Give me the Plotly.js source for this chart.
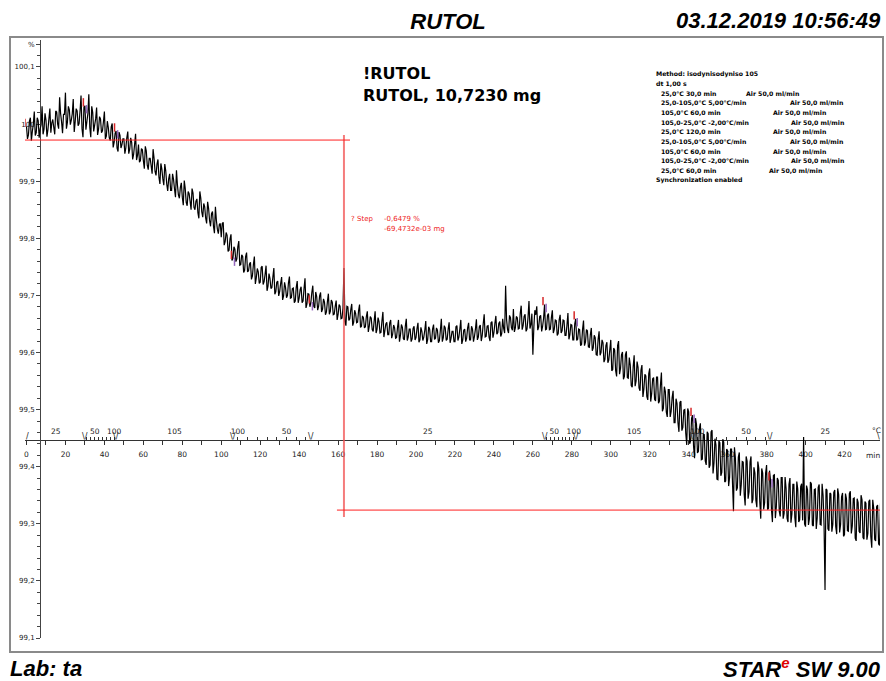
<!DOCTYPE html>
<html><head><meta charset="utf-8">
<script src="https://cdn.plot.ly/plotly-3.0.1.min.js"></script>
<style>html,body{margin:0;padding:0;background:#fff}#chart{width:886px;height:681px}</style>
</head><body><div id="chart"></div>
<script>
// ---- data: sample mass in %, readings on each full minute and each half minute ----
const sampleStepMin = 0.5;
const massMin000 = [99.996,99.981,100.011,99.987,100.022,99.985,100.006,99.991,100.031,99.991,
100.007,99.990,100.027,100.002,99.994,100.023,100.000,100.047,100.004,100.017,
100.055,100.003,100.025,100.007,100.044,100.004,100.023,100.001,100.050,99.977,
100.032,100.004,100.052,99.977,100.020,99.998,100.029,99.991,100.009,99.988,
100.022,99.979,99.994,99.971,100.001,99.968,99.988,99.952,99.980,99.964];
const massMin050 = [99.974,99.958,99.987,99.956,99.968,99.947,99.983,99.945,99.933,99.957,
99.936,99.961,99.928,99.940,99.927,99.956,99.917,99.930,99.907,99.931,
99.904,99.930,99.895,99.904,99.884,99.913,99.886,99.919,99.876,99.889,
99.872,99.901,99.863,99.882,99.865,99.887,99.854,99.865,99.845,99.882,
99.846,99.861,99.835,99.864,99.831,99.843,99.821,99.855,99.816,99.824];
const massMin100 = [99.802,99.828,99.794,99.805,99.779,99.807,99.765,99.781,99.764,99.795,
99.754,99.768,99.744,99.775,99.743,99.758,99.734,99.768,99.731,99.741,
99.723,99.751,99.724,99.752,99.716,99.730,99.714,99.748,99.706,99.725,
99.707,99.732,99.699,99.714,99.700,99.733,99.696,99.713,99.690,99.725,
99.695,99.715,99.690,99.730,99.685,99.702,99.687,99.717,99.678,99.698];
const massMin150 = [99.681,99.705,99.676,99.688,99.671,99.703,99.672,99.688,99.667,99.691,
99.667,99.681,99.660,99.748,99.647,99.680,99.659,99.685,99.653,99.668,
99.653,99.684,99.646,99.661,99.645,99.672,99.646,99.660,99.637,99.672,
99.641,99.654,99.635,99.671,99.638,99.653,99.631,99.657,99.632,99.643,
99.626,99.657,99.630,99.644,99.622,99.659,99.627,99.641,99.624,99.646];
const massMin200 = [99.626,99.652,99.622,99.637,99.627,99.655,99.623,99.641,99.619,99.649,
99.625,99.639,99.621,99.659,99.626,99.643,99.623,99.653,99.625,99.637,
99.619,99.647,99.627,99.657,99.622,99.641,99.625,99.652,99.622,99.641,
99.628,99.658,99.627,99.648,99.630,99.667,99.628,99.647,99.620,99.654,
99.635,99.664,99.635,99.654,99.633,99.642,99.717,99.640,99.665,99.643];
const massMin250 = [99.676,99.643,99.661,99.642,99.682,99.647,99.667,99.641,99.690,99.649,
99.596,99.674,99.681,99.645,99.665,99.646,99.684,99.641,99.668,99.641,
99.674,99.641,99.656,99.633,99.666,99.638,99.656,99.630,99.669,99.631,
99.648,99.622,99.659,99.623,99.640,99.614,99.656,99.618,99.638,99.609,
99.643,99.608,99.626,99.595,99.637,99.600,99.617,99.588,99.618,99.587];
const massMin300 = [99.622,99.570,99.604,99.558,99.620,99.572,99.601,99.558,99.602,99.555,
99.578,99.539,99.595,99.550,99.574,99.533,99.578,99.536,99.559,99.517,
99.572,99.528,99.556,99.515,99.557,99.515,99.565,99.502,99.532,99.487,
99.535,99.497,99.533,99.477,99.511,99.461,99.515,99.469,99.500,99.438,
99.496,99.445,99.490,99.415,99.474,99.427,99.476,99.413,99.456,99.403];
const massMin350 = [99.458,99.403,99.464,99.407,99.438,99.377,99.442,99.390,99.443,99.375,
99.428,99.381,99.431,99.322,99.414,99.363,99.425,99.369,99.408,99.332,
99.410,99.356,99.418,99.343,99.389,99.329,99.397,99.309,99.389,99.337,
99.403,99.327,99.377,99.303,99.386,99.330,99.376,99.313,99.381,99.318,
99.362,99.303,99.380,99.317,99.369,99.294,99.361,99.307,99.370,99.452];
const massMin400 = [99.295,99.360,99.309,99.370,99.296,99.361,99.310,99.369,99.298,99.350,
99.184,99.359,99.288,99.352,99.299,99.359,99.282,99.351,99.299,99.354,
99.281,99.344,99.287,99.357,99.296,99.345,99.270,99.337,99.284,99.342,
99.273,99.336,99.283,99.342,99.258,99.327,99.270,99.333,99.262,99.317];

const massHalf000 = [99.974,100.005,99.971,100.000,99.980,100.011,99.976,99.999,99.982,100.019,
99.978,100.009,99.985,100.008,99.982,100.021,99.992,100.019,99.984,100.017,
99.992,100.031,99.999,100.018,99.986,100.027,99.997,100.023,99.992,100.030,
99.990,100.018,99.994,100.031,99.987,100.009,99.981,100.013,99.985,100.004,
99.974,100.005,99.976,99.995,99.959,99.984,99.958,99.986,99.958,99.974];
const massHalf050 = [99.948,99.976,99.948,99.976,99.938,99.964,99.937,99.964,99.936,99.955,
99.922,99.953,99.920,99.940,99.913,99.940,99.910,99.938,99.895,99.921,
99.893,99.918,99.883,99.913,99.884,99.903,99.872,99.893,99.870,99.897,
99.858,99.887,99.857,99.878,99.850,99.879,99.850,99.869,99.835,99.870,
99.837,99.855,99.826,99.852,99.821,99.847,99.809,99.831,99.808,99.826];
const massHalf100 = [99.826,99.788,99.810,99.777,99.799,99.761,99.785,99.759,99.785,99.753,
99.771,99.740,99.768,99.741,99.755,99.728,99.754,99.720,99.747,99.721,
99.749,99.719,99.737,99.708,99.738,99.712,99.732,99.702,99.723,99.699,
99.721,99.692,99.723,99.696,99.722,99.695,99.712,99.687,99.714,99.687,
99.710,99.687,99.712,99.678,99.703,99.680,99.705,99.681,99.706,99.674];
const massHalf150 = [99.699,99.671,99.694,99.666,99.689,99.667,99.692,99.666,99.681,99.657,
99.684,99.659,99.678,99.655,99.681,99.656,99.675,99.647,99.674,99.652,
99.673,99.644,99.664,99.643,99.663,99.636,99.663,99.640,99.655,99.634,
99.661,99.634,99.655,99.627,99.650,99.631,99.652,99.625,99.648,99.625,
99.644,99.619,99.649,99.624,99.646,99.621,99.641,99.619,99.642,99.622];
const massHalf200 = [99.642,99.618,99.644,99.621,99.639,99.615,99.645,99.619,99.641,99.623,
99.643,99.617,99.639,99.619,99.647,99.621,99.641,99.617,99.637,99.619,
99.645,99.621,99.641,99.615,99.639,99.619,99.643,99.622,99.646,99.619,
99.641,99.622,99.645,99.620,99.650,99.627,99.646,99.627,99.652,99.626,
99.651,99.632,99.651,99.628,99.659,99.634,99.657,99.634,99.661,99.639];
const massHalf250 = [99.636,99.663,99.641,99.668,99.640,99.663,99.637,99.661,99.642,99.668,
99.644,99.666,99.639,99.663,99.637,99.660,99.640,99.665,99.640,99.661,
99.634,99.657,99.630,99.657,99.634,99.657,99.630,99.648,99.623,99.649,
99.622,99.650,99.621,99.641,99.612,99.640,99.612,99.640,99.610,99.631,
99.603,99.630,99.596,99.623,99.595,99.622,99.583,99.612,99.582,99.605];
const massHalf300 = [99.568,99.608,99.568,99.612,99.562,99.596,99.553,99.596,99.556,99.591,
99.542,99.575,99.541,99.584,99.538,99.569,99.522,99.562,99.523,99.563,
99.514,99.554,99.518,99.557,99.511,99.543,99.497,99.540,99.496,99.535,
99.487,99.521,99.477,99.519,99.477,99.513,99.463,99.499,99.458,99.502,
99.440,99.485,99.436,99.485,99.424,99.467,99.412,99.457,99.410,99.461];
const massHalf350 = [99.398,99.461,99.388,99.449,99.378,99.445,99.384,99.448,99.373,99.431,
99.366,99.431,99.371,99.434,99.358,99.417,99.349,99.409,99.352,99.418,
99.344,99.408,99.336,99.399,99.341,99.409,99.339,99.397,99.325,99.389,
99.325,99.393,99.325,99.385,99.310,99.380,99.322,99.381,99.309,99.382,
99.310,99.369,99.302,99.369,99.311,99.374,99.303,99.365,99.306,99.300];
const massHalf400 = [99.367,99.298,99.373,99.298,99.360,99.291,99.364,99.299,99.370,99.298,
99.361,99.291,99.354,99.286,99.355,99.295,99.362,99.285,99.347,99.278,
99.353,99.288,99.353,99.283,99.344,99.275,99.344,99.287,99.350,99.276,
99.339,99.272,99.339,99.278,99.342,99.273,99.330,99.265,99.336,99.273];

// temperature program (min, °C)
const segStartMin = [0, 30, 46, 106, 146, 266, 282, 342, 382];
const segEndMin   = [30, 46, 106, 146, 266, 282, 342, 382, 442];
const segStartC   = [25, 25, 105, 105, 25, 25, 105, 105, 25];
const segEndC     = [25, 105, 105, 25, 25, 105, 105, 25, 25];

// step evaluation
const stepUpperPct = 99.972;
const stepLowerPct = 99.324;
const stepTimeMin = 163.0;

// tick labels
const yTickVals = [99.1,99.2,99.3,99.4,99.5,99.6,99.7,99.8,99.9,100.0,100.1,100.14];
const yTickText = ['99,1','99,2','99,3','99,4','99,5','99,6','99,7','99,8','99,9','100','100,1','%'];
const xTickVals = [0,20,40,60,80,100,120,140,160,180,200,220,240,260,280,300,320,340,360,380,400,420];
const xTickText = ['0','20','40','60','80','100','120','140','160','180','200','220','240','260','280','300','320','340','360','380','400','420'];
const rampTickTemps = [30,40,50,60,70,80,90,100];
const rampLabelTemps = [50,100];

const methodLines = ['25,0°C 30,0 min','25,0-105,0°C 5,00°C/min','105,0°C 60,0 min','105,0-25,0°C -2,00°C/min',
  '25,0°C 120,0 min','25,0-105,0°C 5,00°C/min','105,0°C 60,0 min','105,0-25,0°C -2,00°C/min','25,0°C 60,0 min'];
const methodGas = 'Air 50,0 ml/min';

// ---- build ----
const massMin = [].concat(massMin000,massMin050,massMin100,massMin150,massMin200,massMin250,massMin300,massMin350,massMin400);
const massHalf = [].concat(massHalf000,massHalf050,massHalf100,massHalf150,massHalf200,massHalf250,massHalf300,massHalf350,massHalf400);
const massPct = [];
massMin.forEach((v, i) => { massPct.push(v); massPct.push(massHalf[i]); });
const timeMin = massPct.map((_, i) => i * sampleStepMin);

const W = 886, H = 681, mL = 10, mR = 3, mT = 37, mB = 29;
const pw = W - mL - mR, ph = H - mT - mB;
const px2x = px => (px - mL) / pw;
const py2y = py => (H - mB - py) / ph;

const xRange = [-0.77, 438.23];
const xDomain = [px2x(25), px2x(880)];
const yRange = [99.1, 100.1472];
const yDomain = [py2y(638), py2y(40)];
const axisPos = py2y(440);

const rampVals = [], tLabelVals = [], tLabelText = [];
for (let i = 0; i < segStartMin.length; i++) {
  const a = segStartMin[i], b = segEndMin[i], T0 = segStartC[i], T1 = segEndC[i];
  if (T0 === T1) {
    tLabelVals.push((a + Math.min(b, xRange[1])) / 2);
    tLabelText.push(String(T0));
  } else {
    rampTickTemps.forEach(T => {
      const t = a + (T - T0) / (T1 - T0) * (b - a);
      rampVals.push(t);
      if (rampLabelTemps.includes(T)) { tLabelVals.push(t); tLabelText.push(String(T)); }
    });
  }
}
const boundaries = segStartMin.slice(1);
const massAt = t => massMin[Math.min(massMin.length - 1, Math.round(t))];

const smallFont = {family: 'DejaVu Sans', size: 7.5, color: '#222'};

const traces = [
  {type: 'scatter', mode: 'lines', x: timeMin, y: massPct, xaxis: 'x', yaxis: 'y',
   line: {color: '#000', width: 1.2, simplify: false}, hoverinfo: 'skip'},
  {type: 'scatter', mode: 'lines', xaxis: 'x', yaxis: 'y', hoverinfo: 'skip',
   x: [stepTimeMin, stepTimeMin], y: [99.981, 99.312],
   line: {color: 'rgba(240,80,80,0.75)', width: 2}},
  {type: 'scatter', mode: 'lines', xaxis: 'x', yaxis: 'y', hoverinfo: 'skip',
   x: [xRange[0], 166.1, null, 159.4, xRange[1]],
   y: [stepUpperPct, stepUpperPct, null, stepLowerPct, stepLowerPct],
   line: {color: '#ff2020', width: 1}},
  {type: 'scatter', mode: 'markers', xaxis: 'x', yaxis: 'y', hoverinfo: 'skip',
   x: segStartMin.map(t => t - 0.8), y: segStartMin.map(t => massAt(t) + 0.006),
   marker: {symbol: 'line-ns-open', size: 6, line: {color: '#33bbbb', width: 1.5}}},
  {type: 'scatter', mode: 'markers', xaxis: 'x', yaxis: 'y', hoverinfo: 'skip',
   x: boundaries.map(t => t + 0.8), y: boundaries.map(t => massAt(t) - 0.006),
   marker: {symbol: 'line-ns-open', size: 6, line: {color: '#e00000', width: 1.5}}},
  {type: 'scatter', mode: 'lines', x: [], y: [], xaxis: 'x2', yaxis: 'y', hoverinfo: 'skip'},
  {type: 'scatter', mode: 'lines', x: [], y: [], xaxis: 'x3', yaxis: 'y', hoverinfo: 'skip'}
];

const anns = [];
function ann(text, px, py, xanchor, font, extra) {
  anns.push(Object.assign({text: text, xref: 'paper', yref: 'paper', x: px2x(px), y: py2y(py),
    xanchor: xanchor, yanchor: 'middle', showarrow: false, font: font, borderpad: 0}, extra || {}));
}
const headFont = {family: 'Liberation Sans', size: 22, color: '#000'};
ann('<b><i>03.12.2019 10:56:49</i></b>', 882, 21, 'right', headFont);
ann('<b><i>Lab: ta</i></b>', 9, 668, 'left', headFont);
ann('<b><i>STAR<sup><span style="color:#e00000;font-size:15px">e</span></sup> SW 9.00</i></b>', 882, 668, 'right', headFont);

const sampFont = {family: 'DejaVu Sans', size: 16, color: '#000'};
ann('<b>!RUTOL</b>', 362, 73, 'left', sampFont);
ann('<b>RUTOL, 10,7230 mg</b>', 362, 95, 'left', sampFont);

const mFont = {family: 'DejaVu Sans', size: 6.2, color: '#000'};
const lineGap = 9.64;
ann('<b>Method: isodynisodyniso 105</b>', 655, 74, 'left', mFont);
ann('<b>dt 1,00 s</b>', 655, 74 + lineGap, 'left', mFont);
const gasX = [745, 789, 772, 790, 772, 789, 772, 790, 768];
methodLines.forEach((s, i) => {
  const py = 74 + lineGap * (i + 2);
  ann('<b>' + s + '</b>', 660, py, 'left', mFont);
  ann('<b>' + methodGas + '</b>', gasX[i], py, 'left', mFont);
});
ann('<b>Synchronization enabled</b>', 655, 74 + lineGap * 11, 'left', mFont);

const redFont = {family: 'DejaVu Sans', size: 7, color: '#ee2222'};
ann('? Step', 350, 219, 'left', redFont);
ann('-0,6479 %', 383, 219, 'left', redFont);
ann('-69,4732e-03 mg', 383, 229, 'left', redFont);

ann('min', 873, 455, 'center', smallFont);
ann('°C', 876, 430, 'center', smallFont);

const vFont = {family: 'DejaVu Sans', size: 8, color: '#222'};
boundaries.forEach(t => anns.push({text: '\\/', xref: 'x', yref: 'paper', x: t, y: axisPos,
  xanchor: 'center', yanchor: 'bottom', yshift: -2, showarrow: false, borderpad: 0, font: vFont}));
anns.push({text: '/', xref: 'x', yref: 'paper', x: 0.3, y: axisPos, xanchor: 'center', yanchor: 'bottom',
  yshift: -2, showarrow: false, borderpad: 0, font: vFont});
anns.push({text: '\\', xref: 'x', yref: 'paper', x: xRange[1] - 0.6, y: axisPos, xanchor: 'center', yanchor: 'bottom',
  yshift: -2, showarrow: false, borderpad: 0, font: vFont});

const layout = {
  width: W, height: H,
  margin: {l: mL, r: mR, t: mT, b: mB, pad: 0},
  paper_bgcolor: '#fff', plot_bgcolor: 'rgba(0,0,0,0)',
  showlegend: false,
  separators: ',.',
  title: {text: '<b><i>RUTOL</i></b>', x: 448 / W, xanchor: 'center',
          y: 1 - 21 / H, yanchor: 'middle', font: headFont},
  xaxis: {domain: xDomain, range: xRange, anchor: 'free', position: axisPos, layer: 'below traces',
    showgrid: false, zeroline: false, showline: true, linecolor: '#333', linewidth: 1,
    tickmode: 'array', tickvals: xTickVals, ticktext: xTickText,
    ticks: 'outside', ticklen: 4, tickwidth: 1, tickcolor: '#333', tickfont: smallFont, ticklabelstandoff: 3,
    minor: {tickmode: 'linear', tick0: 0, dtick: 10, ticks: 'outside', ticklen: 4, tickcolor: '#333', showgrid: false}},
  xaxis2: {overlaying: 'x', domain: xDomain, range: xRange, anchor: 'free', position: axisPos, side: 'top',
    layer: 'below traces', showgrid: false, zeroline: false, showline: false,
    tickmode: 'array', tickvals: rampVals, showticklabels: false,
    ticks: 'outside', ticklen: 3, tickwidth: 1, tickcolor: '#333'},
  xaxis3: {overlaying: 'x', domain: xDomain, range: xRange, anchor: 'free', position: axisPos, side: 'top',
    layer: 'below traces', showgrid: false, zeroline: false, showline: false,
    tickmode: 'array', tickvals: tLabelVals, ticktext: tLabelText,
    ticks: 'outside', ticklen: 3, tickcolor: 'rgba(0,0,0,0)', tickfont: smallFont},
  yaxis: {domain: yDomain, range: yRange, anchor: 'free', position: px2x(40), side: 'left',
    layer: 'below traces', showgrid: false, zeroline: false, showline: true, linecolor: '#444', linewidth: 1,
    tickmode: 'array', tickvals: yTickVals, ticktext: yTickText,
    ticks: 'outside', ticklen: 4, tickwidth: 1, tickcolor: '#444', tickfont: {family: 'DejaVu Sans', size: 7, color: '#222'},
    minor: {tickmode: 'linear', tick0: 99.1, dtick: 0.02, ticks: 'outside', ticklen: 3, tickcolor: '#444', showgrid: false}},
  shapes: [{type: 'rect', xref: 'paper', yref: 'paper', x0: 0, x1: 1, y0: 0, y1: 1,
    line: {color: '#8a8a8a', width: 2}, fillcolor: 'rgba(0,0,0,0)', layer: 'below'}],
  annotations: anns
};

Plotly.newPlot('chart', traces, layout, {staticPlot: true, displayModeBar: false});
</script>
</body></html>
